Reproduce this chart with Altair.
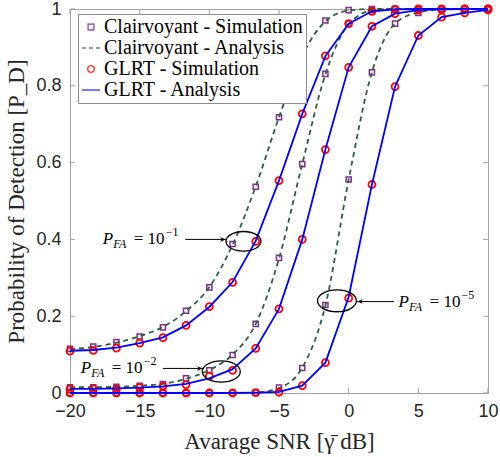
import altair as alt
import pandas as pd

# ---- data ----
snr = [-20, -18.33, -16.67, -15, -13.33, -11.67, -10, -8.33, -6.67, -5,
       -3.33, -1.67, 0, 1.67, 3.33, 5, 6.67, 8.33, 10]

clair_sim_1 = [0.115, 0.121, 0.133, 0.147, 0.171, 0.214, 0.275, 0.388, 0.537, 0.718,
               0.880, 0.970, 0.997, 1, 1, 1, 1, 1, 1]
clair_sim_2 = [0.015, 0.015, 0.016, 0.019, 0.023, 0.038, 0.059, 0.099, 0.180, 0.352,
               0.596, 0.831, 0.962, 0.997, 1, 1, 1, 1, 1]
clair_sim_5 = [0, 0, 0, 0, 0, 0, 0, 0, 0.001, 0.014,
               0.065, 0.229, 0.556, 0.835, 0.962, 0.990, 0.999, 1, 1]

clair_ana_1 = [0.114, 0.120, 0.131, 0.148, 0.172, 0.213, 0.276, 0.386, 0.538, 0.718,
               0.878, 0.968, 0.996, 1, 1, 1, 1, 1, 1]
clair_ana_2 = [0.015, 0.015, 0.016, 0.019, 0.024, 0.037, 0.060, 0.100, 0.180, 0.350,
               0.597, 0.830, 0.960, 0.996, 1, 1, 1, 1, 1]
clair_ana_5 = [0, 0, 0, 0, 0, 0, 0, 0, 0.001, 0.013,
               0.066, 0.228, 0.556, 0.836, 0.962, 0.991, 0.999, 1, 1]

glrt_sim_1 = [0.109, 0.111, 0.117, 0.130, 0.144, 0.176, 0.225, 0.288, 0.395, 0.553,
              0.727, 0.878, 0.962, 0.994, 0.999, 1, 1, 1, 1]
glrt_sim_2 = [0.010, 0.011, 0.011, 0.014, 0.018, 0.022, 0.044, 0.059, 0.116, 0.219,
              0.400, 0.634, 0.848, 0.955, 0.988, 0.997, 0.999, 1, 1]
glrt_sim_5 = [0, 0, 0, 0, 0, 0, 0, 0, 0.001, 0.002,
              0.019, 0.079, 0.247, 0.543, 0.798, 0.931, 0.979, 0.990, 0.998]

glrt_ana_1 = [0.110, 0.112, 0.118, 0.130, 0.145, 0.176, 0.224, 0.289, 0.396, 0.553,
              0.727, 0.877, 0.962, 0.994, 0.999, 1, 1, 1, 1]
glrt_ana_2 = [0.011, 0.011, 0.012, 0.014, 0.017, 0.024, 0.038, 0.062, 0.116, 0.219,
              0.400, 0.634, 0.848, 0.955, 0.988, 0.997, 0.999, 1, 1]
glrt_ana_5 = [0, 0, 0, 0, 0, 0, 0, 0, 0.001, 0.003,
              0.019, 0.079, 0.250, 0.543, 0.798, 0.931, 0.979, 0.990, 0.998]

pfa_levels = ["1e-1", "1e-2", "1e-5"]
series_names = ["Clairvoyant - Simulation", "Clairvoyant - Analysis",
                "GLRT - Simulation", "GLRT - Analysis"]

x_ticks = [-20, -15, -10, -5, 0, 5, 10]
y_ticks = [0, 0.2, 0.4, 0.6, 0.8, 1]

# annotations: text anchor, arrow, ellipse
ann_text_x = [-17.65, -19.23, 3.58]
ann_text_y = [0.401, 0.064, 0.238]
ann_exp = ["\u22121", "\u22122", "\u22125"]
arrow_x1 = [-11.73, -13.33, 3.26]
arrow_x2 = [-8.8, -10.45, 0.58]
arrow_y = [0.400, 0.064, 0.238]
arrow_angle = [0, 0, 180]
ell_x = [-7.55, -9.14, -0.84]
ell_y = [0.395, 0.056, 0.240]
ell_w = [35, 38, 39]

# ---- build tables ----
def long(arrs):
    rows = []
    for lvl, arr in zip(pfa_levels, arrs):
        for s, v in zip(snr, arr):
            rows.append({"snr": s, "pd": v, "pfa": lvl})
    return pd.DataFrame(rows)

df_cs = long([clair_sim_1, clair_sim_2, clair_sim_5])
df_ca = long([clair_ana_1, clair_ana_2, clair_ana_5])
df_gs = long([glrt_sim_1, glrt_sim_2, glrt_sim_5])
df_ga = long([glrt_ana_1, glrt_ana_2, glrt_ana_5])

df_ann = pd.DataFrame({"x": ann_text_x, "y": ann_text_y, "exp": ann_exp})
df_arrow = pd.DataFrame({"x1": arrow_x1, "x2": arrow_x2, "y": arrow_y, "angle": arrow_angle})
df_ell = pd.DataFrame({"x": ell_x, "y": ell_y, "size": [w * w for w in ell_w]})
df_leg = pd.DataFrame({"series": series_names})

W, H = 418, 384
AX = "#a0a0a0"
SERIF = "Liberation Serif"

xs = alt.Scale(domain=[-20, 10], nice=False)
ys = alt.Scale(domain=[0, 1], nice=False)

X = alt.X("snr:Q", scale=xs, axis=alt.Axis(values=x_ticks, format="d", labelFlush=False,
          title="Avarage SNR [\u03b3\u0304 dB]", titlePadding=10))
Y = alt.Y("pd:Q", scale=ys, axis=alt.Axis(values=y_ticks, format="~g", labelFlush=False,
          title="Probability of Detection [P_D]", titlePadding=7))

sq = alt.Chart(df_cs).mark_point(shape="square", filled=False, color="#7E2F8E",
                                 size=26, strokeWidth=1.5, opacity=1).encode(x=X, y=Y, detail="pfa:N")
dash = alt.Chart(df_ca).mark_line(color="#2F5E40", strokeDash=[5, 4], strokeWidth=1.8,
                                  interpolate="monotone").encode(x=X, y=Y, detail="pfa:N")
circ = alt.Chart(df_gs).mark_point(shape="circle", filled=False, color="#FF0000",
                                   size=49, strokeWidth=1.8, opacity=1).encode(x=X, y=Y, detail="pfa:N")
blue = alt.Chart(df_ga).mark_line(color="#0000FF", strokeWidth=1.8).encode(x=X, y=Y, detail="pfa:N")

# legend symbols (unit box -1..1 is scaled to 18 px): small square, line, small circle, line
SQ_PATH = "M -0.32 -0.32 L 0.32 -0.32 L 0.32 0.32 L -0.32 0.32 Z"
CI_PATH = "M 0.37 0 A 0.37 0.37 0 1 1 -0.37 0 A 0.37 0.37 0 1 1 0.37 0 Z"

legend = alt.Chart(df_leg).transform_filter("datum.series == 'none'").mark_point(filled=False).encode(
    color=alt.Color("series:N", scale=alt.Scale(domain=series_names,
                    range=["#7E2F8E", "#2F5E40", "#FF0000", "#0000FF"]), title=None),
    shape=alt.Shape("series:N", scale=alt.Scale(domain=series_names,
                    range=[SQ_PATH, "stroke", CI_PATH, "stroke"]), title=None),
    strokeDash=alt.StrokeDash("series:N", scale=alt.Scale(domain=series_names,
                              range=[[1, 0], [4, 3], [1, 0], [1, 0]]), title=None),
)

# inner ticks
tick_x_df = pd.DataFrame({"snr": x_ticks})
tick_y_df = pd.DataFrame({"pd": y_ticks})
tb = alt.Chart(tick_x_df).mark_rule(color=AX, strokeWidth=1).encode(
    x=alt.X("snr:Q", scale=xs), y=alt.value(H), y2=alt.value(H - 5))
tt = alt.Chart(tick_x_df).mark_rule(color=AX, strokeWidth=1).encode(
    x=alt.X("snr:Q", scale=xs), y=alt.value(0), y2=alt.value(5))
tl = alt.Chart(tick_y_df).mark_rule(color=AX, strokeWidth=1).encode(
    y=alt.Y("pd:Q", scale=ys), x=alt.value(0), x2=alt.value(5))
tr = alt.Chart(tick_y_df).mark_rule(color=AX, strokeWidth=1).encode(
    y=alt.Y("pd:Q", scale=ys), x=alt.value(W), x2=alt.value(W - 5))

# annotations
ell = alt.Chart(df_ell).mark_point(
    shape="M -1 0 A 1 0.56 0 1 0 1 0 A 1 0.56 0 1 0 -1 0 Z",
    filled=False, color="black", strokeWidth=1.3, opacity=1).encode(
    x=alt.X("x:Q", scale=xs), y=alt.Y("y:Q", scale=ys), size=alt.Size("size:Q", scale=None))
arr_line = alt.Chart(df_arrow).mark_rule(color="black", strokeWidth=1).encode(
    x=alt.X("x1:Q", scale=xs), x2="x2:Q", y=alt.Y("y:Q", scale=ys))
arr_head = alt.Chart(df_arrow).mark_point(
    shape="M 0 0 L -2 -0.75 L -1.4 0 L -2 0.75 Z", filled=True, color="black",
    size=36, opacity=1).encode(
    x=alt.X("x2:Q", scale=xs), y=alt.Y("y:Q", scale=ys), angle=alt.Angle("angle:Q", scale=None))

def txt(text=None, field=None, dx=0, dy=0, size=17, italic=False):
    m = alt.Chart(df_ann).mark_text(align="left", baseline="middle", font=SERIF, fontSize=size,
                                    fontStyle="italic" if italic else "normal", color="black",
                                    dx=dx, dy=dy)
    enc = dict(x=alt.X("x:Q", scale=xs), y=alt.Y("y:Q", scale=ys))
    if field:
        enc["text"] = alt.Text(field + ":N")
    else:
        enc["text"] = alt.value(text)
    return m.encode(**enc)

t_p = txt("P", dx=0, italic=True)
t_fa = txt("FA", dx=10.5, dy=5, size=12, italic=True)
t_eq = txt("= 10", dx=31, size=17)
t_exp = txt(field="exp", dx=63, dy=-7, size=12)

chart = alt.layer(
    tb, tt, tl, tr, sq, dash, circ, blue, legend,
    ell, arr_line, arr_head, t_p, t_fa, t_eq, t_exp
).properties(
    width=W, height=H,
    autosize=alt.AutoSizeParams(type="none"),
    padding={"left": 70, "top": 9, "right": 12, "bottom": 64},
    background="white",
).configure_view(
    stroke=AX, strokeWidth=1
).configure_axis(
    grid=False, domain=False, ticks=False,
    labelFont="Liberation Sans", labelFontSize=18, labelColor="#262626",
    labelPadding=9,
    titleFont=SERIF, titleFontSize=23, titleFontWeight="normal", titleColor="#262626",
).configure_legend(
    orient="none", legendX=8, legendY=5, padding=3,
    strokeColor="#8c8c8c", fillColor="white",
    labelFont=SERIF, labelFontSize=20, labelColor="black",
    rowPadding=1, symbolSize=324, symbolStrokeWidth=1.6, labelOffset=3, labelLimit=400,
)

chart.save("out.html", embed_options={"renderer": "svg", "actions": False})
